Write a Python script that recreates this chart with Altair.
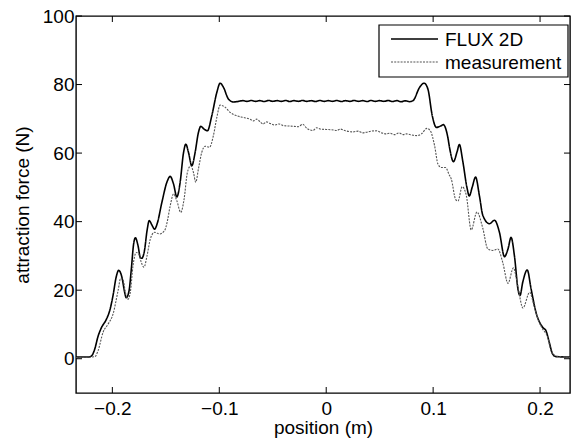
import altair as alt
import pandas as pd

# FLUX 2D simulation: attraction force (N) against position (m)
flux_x = [-0.234, -0.222, -0.219, -0.2165, -0.2134, -0.2103, -0.2056, -0.2025, -0.1994, -0.1963,
          -0.1941, -0.191, -0.1885, -0.187, -0.1844, -0.1823, -0.1801, -0.1785, -0.176, -0.1738,
          -0.1725, -0.170, -0.1675, -0.1655, -0.163, -0.1605, -0.158, -0.1537, -0.149, -0.1459,
          -0.1428, -0.1397, -0.1366, -0.1335, -0.1313, -0.1288, -0.1257, -0.1226, -0.1195, -0.1173,
          -0.1142, -0.1111, -0.107, -0.1023, -0.0992, -0.0961, -0.0915, -0.0868,
          -0.082, -0.078, -0.074, -0.070, -0.066, -0.062, -0.058, -0.054, -0.050, -0.046,
          -0.042, -0.038, -0.034, -0.030, -0.026, -0.022, -0.018, -0.014, -0.010, -0.006,
          -0.002, 0.002, 0.006, 0.010, 0.014, 0.018, 0.022, 0.026, 0.030, 0.034,
          0.038, 0.042, 0.046, 0.050, 0.054, 0.058, 0.062, 0.066, 0.070, 0.074, 0.078,
          0.0812, 0.0874, 0.0915, 0.0951, 0.0992, 0.103, 0.1076, 0.1095, 0.1138, 0.1154,
          0.119, 0.1225, 0.1245, 0.1278, 0.1316, 0.1338, 0.1365, 0.1397, 0.1433, 0.1465,
          0.1527, 0.1574, 0.162, 0.1667, 0.170, 0.1729, 0.176, 0.1795, 0.1812, 0.1838,
          0.188, 0.1916, 0.1962, 0.2024, 0.2055, 0.2086, 0.2117, 0.215, 0.228]
flux_y = [0.5, 0.5, 1.0, 2.8, 6.5, 9.0, 11.5, 14.0, 18.4, 24.0,
          25.8, 23.7, 19.4, 17.8, 19.8, 26.0, 33.5, 35.3, 33.0, 29.5,
          29.3, 31.5, 37.5, 40.3, 39.0, 37.8, 39.5, 45.6, 51.5, 53.2,
          51.0, 47.2, 51.5, 60.0, 62.6, 60.2, 56.3, 60.2, 66.0, 67.8,
          67.0, 66.5, 70.9, 77.7, 80.4, 79.2, 75.8, 74.9,
          75.1, 75.3, 75.1, 75.35, 75.1, 75.3, 75.05, 75.35, 75.1, 75.3,
          75.1, 75.35, 75.05, 75.3, 75.1, 75.35, 75.1, 75.3, 75.05, 75.35,
          75.1, 75.3, 75.1, 75.35, 75.05, 75.3, 75.1, 75.35, 75.1, 75.3,
          75.05, 75.35, 75.1, 75.3, 75.1, 75.35, 75.05, 75.3, 75.0, 75.25, 75.0,
          75.3, 79.2, 80.4, 78.7, 70.9, 67.5, 68.0, 68.3, 64.5, 61.5,
          57.5, 60.5, 62.5, 57.5, 50.0, 47.5, 50.0, 53.0, 47.5, 41.8,
          39.4, 40.4, 36.9, 29.8, 32.0, 35.4, 30.1, 20.0, 18.4, 22.3,
          25.9, 20.4, 13.5, 9.2, 8.2, 4.8, 1.4, 0.6, 0.5]

# Measured attraction force
meas_x = [-0.234, -0.2165, -0.2134, -0.2087, -0.204, -0.1994, -0.1947, -0.1922, -0.190, -0.1875,
          -0.1853, -0.1832, -0.1807, -0.1776, -0.1754, -0.1729, -0.1704, -0.1676, -0.1645, -0.1605,
          -0.1558, -0.1511, -0.149, -0.1459, -0.1428, -0.1397, -0.136, -0.1329, -0.1298, -0.1267,
          -0.1242, -0.122, -0.1195, -0.1164, -0.1133, -0.1092, -0.1055, -0.1023, -0.0992, -0.0946,
          -0.0899, -0.0837, -0.0775, -0.0712,
          -0.068, -0.065, -0.062, -0.059, -0.056, -0.052, -0.048, -0.044, -0.040, -0.035,
          -0.030, -0.026, -0.022, -0.018, -0.0124, -0.009, -0.005, 0.000, 0.005, 0.010,
          0.013, 0.018, 0.025, 0.030, 0.034, 0.0377, 0.042, 0.047, 0.052, 0.056,
          0.0594, 0.064, 0.068, 0.072, 0.075, 0.080, 0.0843, 0.089, 0.0942, 0.0974,
          0.1014, 0.1045, 0.1076, 0.1117, 0.1148, 0.117, 0.121, 0.1232, 0.1272, 0.131,
          0.1356, 0.141, 0.1465, 0.151, 0.1558, 0.1605, 0.1651, 0.170, 0.1751, 0.1791,
          0.184, 0.1903, 0.1947, 0.1993, 0.2024, 0.2071, 0.2102, 0.2149, 0.228]
meas_y = [0.3, 0.6, 2.3, 7.7, 10.1, 13.0, 19.8, 23.5, 23.0, 18.9,
          17.4, 19.4, 27.1, 31.0, 30.6, 28.1, 26.7, 30.0, 34.9, 36.9,
          36.4, 37.4, 39.5, 44.6, 48.1, 46.1, 42.7, 46.6, 54.4, 56.3,
          54.4, 51.5, 55.4, 60.2, 62.0, 61.7, 65.1, 70.4, 74.0, 73.4,
          71.9, 70.9, 70.4, 69.9,
          69.4, 69.9, 69.2, 68.5, 69.1, 68.6, 68.2, 68.5, 68.0, 67.9,
          67.8, 67.7, 68.4, 67.2, 66.6, 67.4, 67.0, 66.9, 66.8, 66.6,
          67.0, 66.5, 66.2, 66.4, 65.9, 66.1, 66.4, 66.5, 65.9, 65.6,
          65.8, 65.4, 65.9, 65.4, 65.6, 65.3, 65.1, 65.6, 67.2, 66.5,
          62.1, 56.8, 55.8, 55.8, 53.8, 52.4, 46.5, 46.0, 50.2, 47.7,
          37.6, 42.8, 38.0, 32.1, 31.6, 32.0, 28.1, 22.0, 26.5, 21.3,
          14.8, 19.4, 15.0, 10.6, 8.7, 6.3, 2.5, 0.8, 0.4]

series_names = ["FLUX 2D", "measurement"]
x_ticks = [-0.2, -0.1, 0, 0.1, 0.2]
y_ticks = [0, 20, 40, 60, 80, 100]

W, H = 494, 377
FONT = "Liberation Sans"
FS = 19
COLORS = ["#000000", "#555555"]
DASHES = [[1, 0], [2, 1.2]]
WIDTHS = [1.6, 1.1]

df = pd.concat([
    pd.DataFrame({"x": flux_x, "y": flux_y, "series": series_names[0]}),
    pd.DataFrame({"x": meas_x, "y": meas_y, "series": series_names[1]}),
])

x_scale = alt.Scale(domain=[-0.234, 0.228], nice=False, zero=False)
y_scale = alt.Scale(domain=[-10, 100], nice=False, zero=False)
x_axis = alt.Axis(values=x_ticks, ticks=False, domain=False, grid=False,
                  labelPadding=6, titlePadding=0, format=".1~f", title="position (m)")
y_axis = alt.Axis(values=y_ticks, ticks=False, domain=False, grid=False,
                  labelPadding=2, titlePadding=10, title="attraction force (N)")

lines = alt.Chart(df).mark_line(interpolate="monotone", clip=True).encode(
    x=alt.X("x:Q", scale=x_scale, axis=x_axis),
    y=alt.Y("y:Q", scale=y_scale, axis=y_axis),
    color=alt.Color("series:N", scale=alt.Scale(domain=series_names, range=COLORS), legend=None),
    strokeDash=alt.StrokeDash("series:N", scale=alt.Scale(domain=series_names, range=DASHES), legend=None),
    strokeWidth=alt.StrokeWidth("series:N", scale=alt.Scale(domain=series_names, range=WIDTHS), legend=None),
)

# Inward tick marks on all four sides of the frame
xt = pd.DataFrame({"t": x_ticks})
yt = pd.DataFrame({"t": y_ticks})
tick_style = dict(color="black", strokeWidth=1)
bottom_ticks = alt.Chart(xt).mark_rule(**tick_style).encode(
    x=alt.X("t:Q", scale=x_scale, axis=x_axis), y=alt.value(H), y2=alt.value(H - 6))
top_ticks = alt.Chart(xt).mark_rule(**tick_style).encode(
    x=alt.X("t:Q", scale=x_scale, axis=x_axis), y=alt.value(0), y2=alt.value(6))
left_ticks = alt.Chart(yt).mark_rule(**tick_style).encode(
    y=alt.Y("t:Q", scale=y_scale, axis=y_axis), x=alt.value(0), x2=alt.value(6))
right_ticks = alt.Chart(yt).mark_rule(**tick_style).encode(
    y=alt.Y("t:Q", scale=y_scale, axis=y_axis), x=alt.value(W), x2=alt.value(W - 6))

# Boxed legend in the upper right corner
one = pd.DataFrame({"k": [0]})
legend_box = alt.Chart(one).mark_rect(fill="white", stroke="black", strokeWidth=1.2).encode(
    x=alt.value(303), x2=alt.value(492), y=alt.value(9), y2=alt.value(61))
legend_items = []
for i, name in enumerate(series_names):
    row_y = 23 + 23 * i
    legend_items.append(alt.Chart(one).mark_rule(
        color=COLORS[i], strokeDash=DASHES[i], strokeWidth=WIDTHS[i]).encode(
        x=alt.value(315), x2=alt.value(362), y=alt.value(row_y)))
    legend_items.append(alt.Chart(one).mark_text(
        align="left", baseline="middle", font=FONT, fontSize=FS, color="black").encode(
        x=alt.value(369), y=alt.value(row_y + 1), text=alt.value(name)))

chart = alt.layer(
    lines, bottom_ticks, top_ticks, left_ticks, right_ticks, legend_box, *legend_items
).properties(
    width=W, height=H,
    autosize=alt.AutoSizeParams(type="none"),
    padding={"left": 76, "top": 16, "right": 1, "bottom": 48},
    background="white",
).configure_view(
    stroke="black", strokeWidth=1.4
).configure_axis(
    labelFont=FONT, labelFontSize=FS, labelColor="black",
    titleFont=FONT, titleFontSize=FS, titleColor="black", titleFontWeight="normal",
)

chart.save("out.html", embed_options={"renderer": "svg", "actions": False})
